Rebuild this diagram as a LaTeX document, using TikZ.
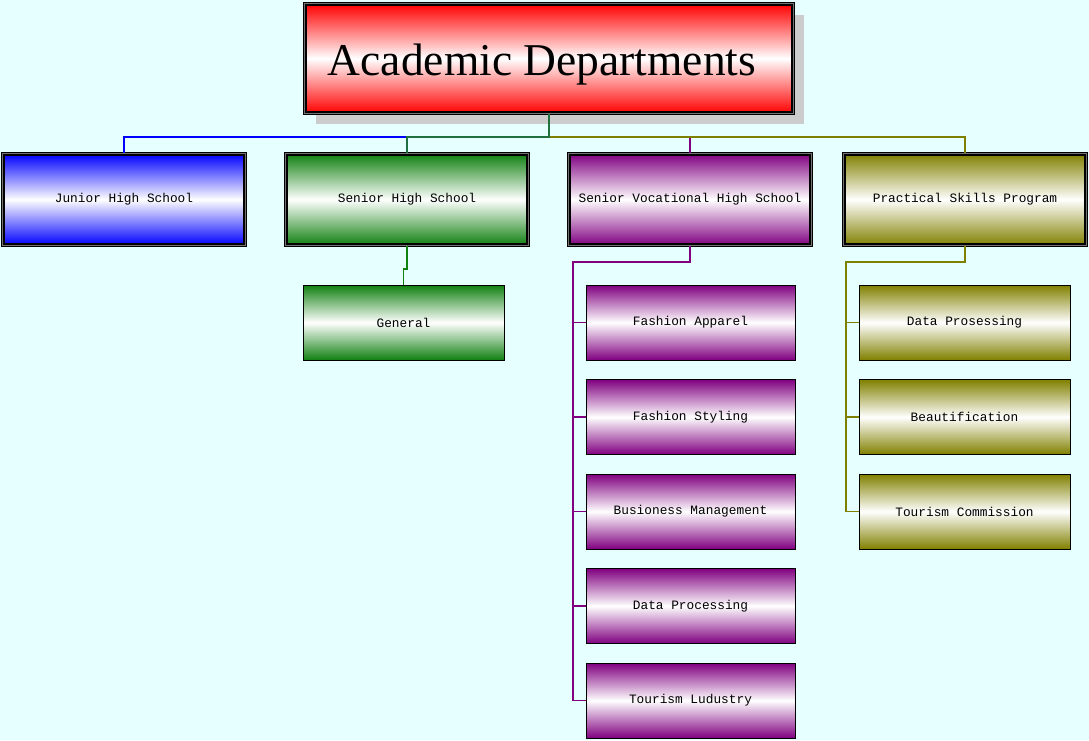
\documentclass[tikz,border=0pt]{standalone}
\usepackage{fontspec}
\setmainfont{Liberation Serif}
\newfontfamily\boxfont{Liberation Mono}
\usetikzlibrary{shadows}
\definecolor{bgc}{RGB}{230,255,255}
\definecolor{cred}{RGB}{255,0,0}
\definecolor{cblue}{RGB}{0,0,255}
\definecolor{cgreen}{RGB}{16,128,16}
\definecolor{cpurple}{RGB}{128,0,128}
\definecolor{colive}{RGB}{128,128,0}
\definecolor{lgreen}{RGB}{32,112,64}
\tikzset{
  shadebox/.style={rectangle, draw=black, line width=1pt, shading=axis,
     top color=#1, bottom color=#1, middle color=white,
     font=\boxfont\fontsize{12.8}{14}\selectfont, inner sep=0pt},
  dbl/.style={double=black!55, double distance=1.3pt, line width=1.2pt},
  lvltwo/.style={shadebox=#1, dbl, minimum width=242.5, minimum height=91.5},
  leaf/.style={shadebox=#1, minimum height=75},
  conn/.style={line width=1.4pt, draw=#1}
}
\begin{document}
\begin{tikzpicture}[x=1pt,y=-1pt]
\fill[bgc] (0,0) rectangle (1089,740);
\useasboundingbox (0,0) rectangle (1089,740);
% root
\node[shadebox=cred, dbl, minimum width=488.5, minimum height=109.5,
      font=\fontsize{45.5}{50}\selectfont,
      general shadow={fill=black!20, shadow xshift=11pt, shadow yshift=-11pt}]
      (root) at (549,58.5) {\raisebox{-16.5pt}[0pt][0pt]{Academic Departments}\hspace*{14pt}};
% level two
\node[lvltwo=cblue] (jhs) at (124,199.5) {Junior High School};
\node[lvltwo=cgreen] (shs) at (407,199.5) {Senior High School};
\node[lvltwo=cpurple] (svhs) at (690,199.5) {Senior Vocational High School};
\node[lvltwo=colive] (psp) at (965,199.5) {Practical Skills Program};
% leaves
\node[leaf=cgreen, minimum width=201] (gen) at (403.5,322.5) {General};
\node[leaf=cpurple, minimum width=209] (fa) at (690.5,322.5) {Fashion Apparel};
\node[leaf=cpurple, minimum width=209] (fs) at (690.5,417) {Fashion Styling};
\node[leaf=cpurple, minimum width=209] (bm) at (690.5,511.5) {Busioness Management};
\node[leaf=cpurple, minimum width=209] (dpv) at (690.5,606) {Data Processing};
\node[leaf=cpurple, minimum width=209] (tl) at (690.5,700.5) {Tourism Ludustry};
\node[leaf=colive, minimum width=211] (dp) at (964.5,322.5) {Data Prosessing};
\node[leaf=colive, minimum width=211] (bt) at (964.5,417) {Beautification};
\node[leaf=colive, minimum width=211] (tc) at (964.5,511.5) {Tourism Commission};
% spine coordinates
\coordinate (vsp) at (573,262);
\coordinate (psp0) at (846,262);
% connectors from root
\draw[conn=cblue] (root.south) -- ++(0,23) -| (jhs.north);
\draw[conn=cpurple] (root.south) -- ++(0,23) -| (svhs.north);
\draw[conn=colive] (root.south) -- ++(0,23) -| (psp.north);
\draw[conn=lgreen] (root.south) -- ++(0,23) -| (shs.north);
% senior high
\draw[conn=cgreen] (shs.south) -- ++(0,23) -| (gen.north);
% vocational
\draw[conn=cpurple] (svhs.south) |- (vsp) |- (tl.west);
\foreach \n in {fa,fs,bm,dpv}{\draw[conn=cpurple] (vsp |- \n.west) -- (\n.west);}
% practical
\draw[conn=colive] (psp.south) |- (psp0) |- (tc.west);
\foreach \n in {dp,bt}{\draw[conn=colive] (psp0 |- \n.west) -- (\n.west);}
\end{tikzpicture}
\end{document}
